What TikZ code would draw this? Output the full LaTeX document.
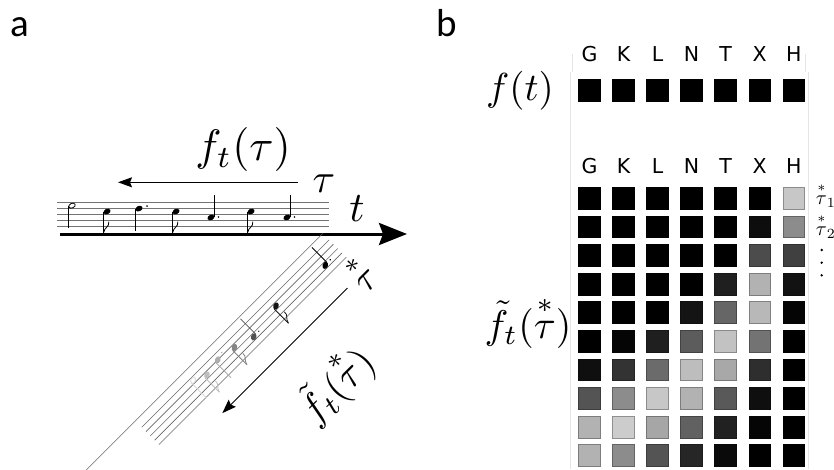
\documentclass[tikz,border=0pt]{standalone}
\usepackage{amsmath}
\usepackage{fontspec}
\newfontfamily\labfont{Carlito}
\newfontfamily\colfont{DejaVu Sans}
\usetikzlibrary{arrows.meta}
\tikzset{
  staffline/.style={draw=black!55, line width=0.7pt},
  dstaffline/.style={draw=black!60, line width=0.55pt},
  cell/.style={minimum size=21.7pt, inner sep=0pt, line width=0.8pt},
  collbl/.style={font=\colfont\fontsize{20.5}{24}\selectfont, inner sep=0pt},
  panellbl/.style={font=\labfont\fontsize{39}{44}\selectfont, inner sep=0pt, anchor=base},
  mlbl/.style={inner sep=0pt},
  axisarrow/.style={line width=3pt, -{Stealth[length=28pt,width=22pt,inset=4pt]}},
  thinarrow/.style={line width=1pt, -{Stealth[length=14pt,width=10pt,inset=2pt]}},
  frameline/.style={draw=black!10, line width=0.6pt},
  pics/qhead/.style={code={\fill (0,0) ellipse[x radius=3.7pt, y radius=2.7pt, rotate=25];}},
  pics/dqup/.style={code={\pic{qhead}; \draw[line width=0.8pt] (3.3pt,0.8pt) -- (3.3pt,22pt); \fill (7.5pt,0.5pt) circle (0.9pt);}},
  pics/dqdn/.style={code={\pic{qhead}; \draw[line width=0.8pt] (-3.3pt,-0.8pt) -- (-3.3pt,-22pt); \fill (8pt,2.5pt) circle (0.9pt);}},
  pics/eighth/.style={code={\pic{qhead}; \draw[line width=0.8pt] (-3.3pt,-0.8pt) -- (-3.3pt,-21pt);
      \draw[line width=0.8pt] (-3.3pt,-21pt) .. controls (-2.6pt,-15.5pt) and (2.6pt,-15.5pt) .. (1.8pt,-10pt);}},
  pics/halfn/.style={code={\draw[line width=0.8pt] (0,0) ellipse[x radius=3.4pt, y radius=2.3pt, rotate=25];
      \draw[line width=0.8pt] (-3.2pt,-0.5pt) -- (-3.2pt,-22pt);}},
}
\begin{document}
\begin{tikzpicture}[x=1pt,y=1pt]
\useasboundingbox (0,0) rectangle (834,469);

% ---------- panel labels
\node[panellbl] (pa) at (19.5,432) {a};
\node[panellbl] (pb) at (446.5,432) {b};

% ---------- panel a: horizontal staff
\begin{scope}[shift={(57,266.3)}]
  \foreach \i in {0,...,4} \draw[staffline] (0,-5.9*\i) -- (272,-5.9*\i);
  \pic at (15,-2.95) {halfn};
  \pic at (50,-8.85) {eighth};
  \pic at (82,-5.9) {dqdn};
  \pic at (119,-8.85) {eighth};
  \pic at (154,-14.75) {dqup};
  \pic at (194,-8.85) {eighth};
  \pic at (230,-14.75) {dqup};
\end{scope}

\coordinate (ax0) at (60,235);
\coordinate (ax1) at (407,235);
\draw[axisarrow] (ax0) -- (ax1);

\coordinate (ha0) at (298,286.7);
\coordinate (ha1) at (118,286.7);
\draw[thinarrow] (ha0) -- (ha1);

\node[mlbl, scale=4.4] (lft) at (243,319) {$f_t(\tau)$};
\node[mlbl, scale=4.1] (ltau) at (324,285) {$\tau$};
\node[mlbl, scale=4.2] (lt) at (357,260) {$t$};

% ---------- panel a: diagonal (compressed) staff
\begin{scope}[shift={(141.7,41.7)}, rotate=45, transform shape]
  \draw[dstaffline] (-70,9) -- (265,9);
  \foreach \i in {0,...,4} \draw[dstaffline] (0,-6.1*\i) -- (265,-6.1*\i);
  \pic[color=black!15] at (69.7,-3.05) {halfn};
  \pic[color=black!25] at (83.1,-9.15) {eighth};
  \pic[color=black!32] at (101.5,-6.1) {dqdn};
  \pic[color=black!48] at (122,-9.15) {eighth};
  \pic[color=black!68] at (143.2,-15.25) {dqup};
  \pic[color=black!92] at (180.7,-9.15) {eighth};
  \pic[color=black] at (244.3,-15.25) {dqup};
  \coordinate (da0) at (244,-47);
  \coordinate (da1) at (67,-47);
\end{scope}
\draw[thinarrow] (da0) -- (da1);
\node[mlbl, scale=3.8, rotate=45] (ltaus) at (360,196) {$\overset{*}{\tau}$};
\node[mlbl, scale=4.0, rotate=45] (lftd) at (335,85) {$\tilde f_t(\overset{*}{\tau})$};

% ---------- panel b
\draw[frameline] (572,415) -- (572,397);
\draw[frameline] (805,415) -- (805,397);
\draw[frameline] (570.7,397) -- (570.7,0);
\draw[frameline] (808,397) -- (808,0);

\foreach \l [count=\c] in {G,K,L,N,T,X,H} {
  \node[collbl] (la-\c) at ({589.5+34.05*(\c-1)},414.5) {\l};
  \node[collbl] (lb-\c) at ({589.5+34.05*(\c-1)},303) {\l};
  \node[cell, fill=black, draw=black] (f-\c) at ({589.5+34.05*(\c-1)},378.5) {};
}

\foreach \rowvals [count=\r] in {
  {100,100,100,100,100,100,22},
  {100,100,100,100,100,95,45},
  {100,100,100,100,100,70,75},
  {100,100,100,100,88,30,93},
  {100,100,100,92,60,28,98},
  {100,98,88,64,24,55,100},
  {94,80,58,26,34,82,100},
  {67,45,22,30,65,94,100},
  {30,20,35,62,87,98,100},
  {30,45,67,85,96,100,100}} {
  \foreach \v [count=\c] in \rowvals {
    \pgfmathtruncatemacro\bd{\v+(100-\v)*0.3}
    \node[cell, fill=black!\v, draw=black!\bd] (m-\r-\c) at ({589.5+34.05*(\c-1)},{270.7-28.6*(\r-1)}) {};
  }
}

\node[mlbl, scale=3.9] (lfb) at (520,378) {$f(t)$};
\node[mlbl, scale=4.0] (lftb) at (528,147) {$\tilde f_t(\overset{*}{\tau})$};

\node[mlbl, scale=2.0, anchor=west] (t1) at (815.5,274) {$\overset{*}{\tau}_1$};
\node[mlbl, scale=2.0, anchor=west] (t2) at (815.5,243) {$\overset{*}{\tau}_2$};
\fill (821.7,219) circle (1.3pt);
\fill (821.7,206.3) circle (1.3pt);
\fill (821.7,193.7) circle (1.3pt);
\end{tikzpicture}
\end{document}
